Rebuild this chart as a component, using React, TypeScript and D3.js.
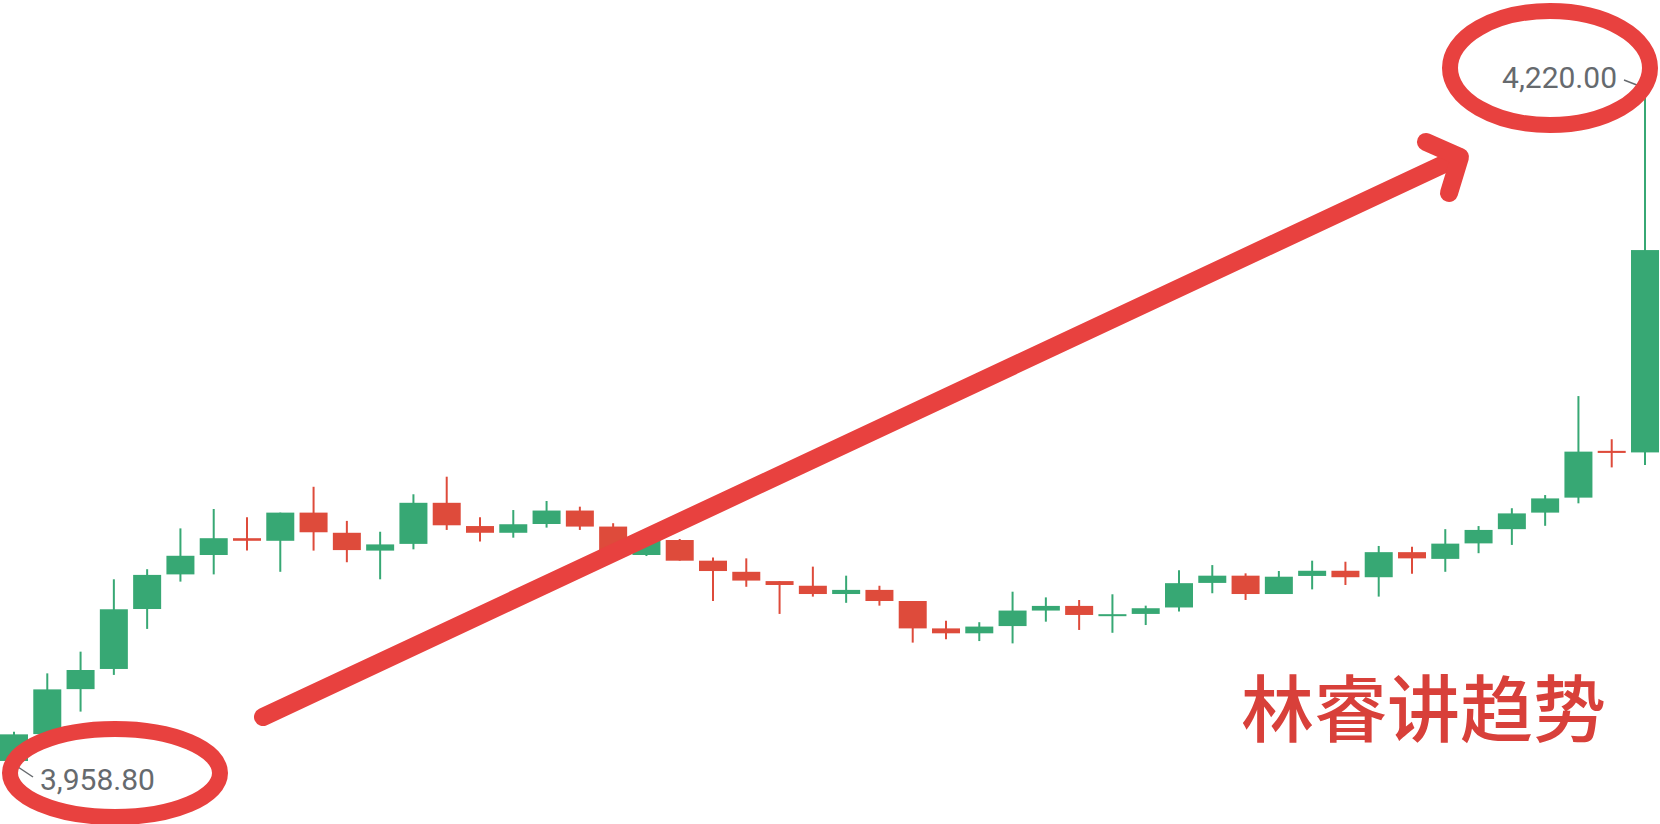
import React from "react";
import * as d3 from "d3";

const opens = [3959.2, 3969.6, 3987.0, 3994.8, 4018.0, 4031.4, 4038.9, 4045.4, 4044.4, 4055.3, 4047.5, 4040.6, 4043.2, 4059.1, 4050.1, 4047.5, 4050.9, 4056.1, 4049.9, 4038.9, 4044.7, 4036.7, 4032.4, 4028.8, 4027.0, 4023.8, 4025.4, 4021.1, 4010.5, 4008.6, 4011.4, 4017.4, 4019.2, 4015.6, 4016.1, 4018.6, 4028.1, 4030.9, 4023.8, 4030.8, 4032.8, 4030.3, 4040.0, 4037.4, 4043.4, 4048.9, 4055.3, 4061.1, 4079.2, 4078.6];
const closes = [3969.5, 3986.9, 3994.4, 4017.9, 4031.2, 4038.6, 4045.4, 4044.4, 4055.3, 4047.7, 4040.8, 4043.0, 4059.1, 4050.4, 4047.5, 4050.8, 4056.1, 4049.9, 4038.9, 4044.7, 4036.7, 4032.7, 4029.0, 4027.3, 4023.8, 4025.4, 4021.1, 4010.5, 4008.6, 4011.2, 4017.4, 4019.2, 4015.7, 4016.0, 4018.3, 4028.0, 4030.9, 4023.8, 4030.5, 4032.8, 4030.3, 4040.0, 4037.6, 4043.3, 4048.6, 4055.0, 4060.8, 4078.9, 4078.4, 4156.9];
const highs = [3970.5, 3993.1, 4001.5, 4029.5, 4033.4, 4049.2, 4056.7, 4053.5, 4055.3, 4065.3, 4052.1, 4047.9, 4062.4, 4069.2, 4053.5, 4056.3, 4059.8, 4057.6, 4051.2, 4044.7, 4045.1, 4037.9, 4037.6, 4028.8, 4034.4, 4030.9, 4027.0, 4021.1, 4013.5, 4012.9, 4024.7, 4022.5, 4021.5, 4023.7, 4019.3, 4033.0, 4035.0, 4031.8, 4032.7, 4036.7, 4036.3, 4042.4, 4042.1, 4048.9, 4050.1, 4057.0, 4062.1, 4100.4, 4083.7, 4220.0];
const lows = [3958.8, 3969.2, 3978.3, 3992.5, 4010.3, 4028.6, 4031.4, 4040.6, 4032.4, 4040.6, 4036.1, 4029.5, 4041.1, 4048.6, 4044.1, 4045.6, 4049.5, 4048.6, 4038.5, 4038.5, 4036.7, 4021.1, 4026.6, 4016.1, 4022.8, 4020.4, 4019.3, 4005.0, 4006.3, 4005.6, 4004.7, 4013.1, 4009.9, 4008.8, 4011.8, 4017.0, 4024.1, 4021.5, 4023.8, 4025.6, 4027.3, 4022.8, 4031.6, 4032.4, 4039.6, 4042.8, 4050.2, 4058.9, 4072.8, 4073.7];

const watermark = "林睿讲趋势";

const W = 1660;
const H = 824;
const UP = "#37a874";
const DOWN = "#de4b3b";
const MARK = "#e8413f";
const LABEL = "#666a6e";

export default function App() {
  const n = opens.length;
  const x = d3.scaleLinear().domain([0, n - 1]).range([14, 1645]);
  const minLow = d3.min(lows) as number;
  const maxHigh = d3.max(highs) as number;
  const y = d3.scaleLinear().domain([minLow, maxHigh]).range([762, 87]);
  const bodyW = 28;
  const fmt = d3.format(",.2f");

  const iMin = lows.indexOf(minLow);
  const iMax = highs.indexOf(maxHigh);
  const lx = x(iMin), ly = y(minLow);
  const hx = x(iMax), hy = y(maxHigh);

  const arrowPath = d3.line()([[263, 717], [1459, 157]]) as string;
  const headPath = d3.line()([[1426, 142], [1460, 157], [1449, 193]]) as string;

  return (
    <div style={{ position: "fixed", left: 0, top: 0, width: W, height: H, background: "#fff" }}>
      <svg width={W} height={H} style={{ display: "block" }}>
        <rect width={W} height={H} fill="#fff" />
        <g>
          {opens.map((o, i) => {
            const c = closes[i];
            const up = c >= o;
            const col = up ? UP : DOWN;
            const top = y(Math.max(o, c));
            const bot = y(Math.min(o, c));
            const h = Math.max(2, bot - top);
            const cx = x(i);
            return (
              <g key={i}>
                <line x1={cx} x2={cx} y1={y(highs[i])} y2={y(lows[i])} stroke={col} strokeWidth={2} />
                <rect x={cx - bodyW / 2} y={top} width={bodyW} height={h} fill={col} />
              </g>
            );
          })}
        </g>
        <line x1={lx + 4} y1={ly + 5} x2={lx + 19} y2={ly + 15} stroke={LABEL} strokeWidth={1.5} />
        <text x={lx + 26} y={ly + 28} fontFamily="Roboto" fontSize={30} fill={LABEL}>{fmt(minLow)}</text>
        <line x1={hx - 3} y1={hy} x2={hx - 21} y2={hy - 7} stroke={LABEL} strokeWidth={1.5} />
        <text x={hx - 28} y={hy + 1} textAnchor="end" fontFamily="Roboto" fontSize={30} fill={LABEL}>{fmt(maxHigh)}</text>

        <ellipse cx={115} cy={773} rx={105} ry={44} fill="none" stroke={MARK} strokeWidth={16} />
        <ellipse cx={1550} cy={68} rx={100} ry={57} fill="none" stroke={MARK} strokeWidth={16} />
        <path d={arrowPath} stroke={MARK} strokeWidth={18} strokeLinecap="round" fill="none" />
        <path d={headPath} stroke={MARK} strokeWidth={18} strokeLinecap="round" strokeLinejoin="round" fill="none" />

        <text x={1241} y={736} fontFamily="'Noto Sans CJK SC'" fontWeight={500} fontSize={73} fill="#d8403a">{watermark}</text>
      </svg>
    </div>
  );
}
